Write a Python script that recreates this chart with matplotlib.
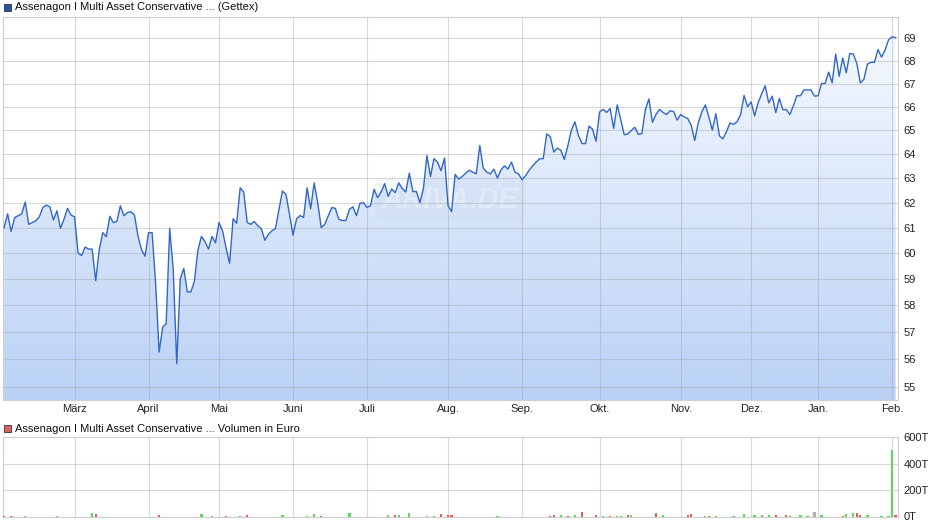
import numpy as np
import pandas as pd
import matplotlib
matplotlib.use("Agg")
import matplotlib.pyplot as plt
from matplotlib.colors import LinearSegmentedColormap
from matplotlib.patches import Rectangle
from matplotlib.ticker import FixedLocator, NullLocator, NullFormatter

# closing prices per month (Gettex trading days, Feb 2025 - Feb 2026)
feb_25 = [61.0, 61.55, 60.85, 61.4, 61.47, 61.55, 62.02, 61.13, 61.2, 61.27,
          61.43, 61.8, 61.9, 61.83, 61.3, 61.67, 60.97, 61.33, 61.77, 61.5]
mar_25 = [61.43, 60.0, 59.9, 60.23, 60.15, 60.15, 58.93, 60.13, 60.8, 60.64, 61.45,
          61.2, 61.24, 61.87, 61.47, 61.6, 61.63, 61.5, 60.67, 60.13, 59.87]
apr_25 = [60.8, 60.8, 58.84, 56.25, 57.17, 57.3, 60.96, 59.36, 55.83, 59.0,
          59.4, 58.5, 58.5, 58.9, 60.1, 60.65, 60.45, 60.15, 60.65, 60.4]
may_25 = [61.2, 60.87, 60.2, 59.6, 61.35, 61.17, 62.6, 62.43, 61.2, 61.13, 61.24,
          61.07, 60.96, 60.5, 60.73, 60.87, 60.96, 61.7, 62.47, 62.33, 61.53]
jun_25 = [60.7, 61.35, 61.48, 61.4, 62.6, 61.75, 62.8, 62.0, 61.0, 61.13, 61.47,
          61.8, 61.77, 61.33, 61.28, 61.28, 61.73, 61.83, 61.47, 61.97, 62.0]
jul_25 = [61.8, 61.88, 62.54, 62.2, 62.43, 62.77, 62.25, 62.55, 62.4, 62.8, 62.57, 62.43,
          63.2, 62.45, 62.45, 62.0, 62.57, 63.93, 63.06, 63.8, 63.66, 63.3, 63.83]
aug_25 = [61.87, 61.64, 63.15, 62.96, 63.06, 63.2, 63.32, 63.24, 63.17, 64.35, 63.4,
          63.24, 63.17, 63.37, 63.0, 63.33, 63.5, 63.37, 63.66, 63.24, 63.17]
sep_25 = [62.93, 63.1, 63.32, 63.5, 63.66, 63.8, 63.8, 64.84, 64.72, 64.08, 64.24,
          64.15, 63.77, 64.35, 65.0, 65.35, 64.77, 64.43, 64.43, 65.17, 65.03, 64.53]
oct_25 = [65.77, 65.88, 65.75, 65.92, 65.07, 66.07, 65.45, 64.8, 64.84, 64.98, 65.12, 64.82,
          64.85, 65.88, 66.33, 65.33, 65.66, 65.88, 65.75, 65.66, 65.82, 65.79, 65.42]
nov_25 = [65.66, 65.56, 65.49, 65.2, 64.56, 65.3, 65.77, 66.07, 65.56, 65.0,
          65.7, 64.76, 64.63, 64.93, 65.3, 65.24, 65.35, 65.65, 66.48, 66.0]
dec_25 = [66.2, 65.6, 66.17, 66.55, 66.9, 66.16, 66.45, 65.74, 66.35, 65.87,
          65.87, 65.66, 66.04, 66.47, 66.47, 66.72, 66.72, 66.72, 66.45]
jan_26 = [66.47, 67.0, 67.0, 67.5, 67.03, 68.3, 67.32, 68.12, 67.47, 68.32, 68.3,
          67.88, 67.03, 67.18, 67.85, 67.93, 67.93, 68.5, 68.16, 68.47, 68.93]
feb_26 = [69.07, 69.03]

prices = np.array(feb_25 + mar_25 + apr_25 + may_25 + jun_25 + jul_25 + aug_25
                  + sep_25 + oct_25 + nov_25 + dec_25 + jan_26 + feb_26)

holidays = ["2025-04-18", "2025-04-21", "2025-05-01", "2025-12-24",
            "2025-12-25", "2025-12-26", "2025-12-31", "2026-01-01"]
dates = pd.bdate_range("2025-02-03", "2026-02-10")
dates = dates[~dates.isin(pd.to_datetime(holidays))][:len(prices)]

month_labels = ["März", "April", "Mai", "Juni", "Juli", "Aug.", "Sep.",
                "Okt.", "Nov.", "Dez.", "Jan.", "Feb."]

# volume in thousand euro: trading day index, amount, direction (u up, d down, n unchanged)
vol_day = [0, 2, 6, 15, 25, 26, 44, 56, 59, 63,
           67, 69, 79, 86, 88, 90, 98, 109, 111, 112,
           115, 120, 122, 124, 126, 127, 140, 155, 156, 158,
           160, 162, 164, 168, 170, 172, 174, 175, 177, 178,
           185, 187, 194, 195, 199, 200, 202, 207, 210, 213,
           215, 217, 219, 222, 223, 226, 228, 230, 232, 238,
           239, 241, 242, 243, 245, 249, 251, 252, 253]
vol_k = [5, 4, 4, 4, 28, 18, 10, 18, 5, 5,
         4, 12, 10, 4, 18, 4, 28, 10, 10, 8,
         25, 5, 5, 18, 10, 12, 4, 5, 8, 8,
         4, 8, 35, 8, 4, 4, 4, 4, 10, 10,
         28, 8, 15, 18, 4, 4, 4, 4, 18, 8,
         10, 8, 8, 8, 4, 10, 4, 33, 10, 4,
         18, 28, 25, 8, 15, 4, 4, 505, 15]
vol_side = ["d", "d", "u", "u", "u", "d", "d", "u", "u", "d",
            "u", "d", "u", "u", "u", "d", "u", "u", "d", "u",
            "u", "u", "u", "d", "d", "d", "u", "d", "d", "u",
            "d", "u", "d", "d", "u", "d", "u", "u", "d", "u",
            "d", "u", "d", "d", "u", "d", "u", "u", "u", "u",
            "u", "u", "d", "d", "u", "u", "u", "n", "u", "d",
            "u", "u", "d", "d", "u", "u", "u", "u", "d"]

x = np.arange(len(prices))
month_pos = [i for i in range(1, len(dates)) if dates[i].month != dates[i - 1].month]

plt.rcParams["font.family"] = ["Liberation Sans", "DejaVu Sans"]
plt.rcParams["font.size"] = 8

W, H = 940, 526
fig = plt.figure(figsize=(W / 100, H / 100), dpi=100)

# ---- price chart
ax = fig.add_axes([2.5 / W, 1 - 400 / H, 895.2 / W, (400 - 16.7) / H])
cmap = LinearSegmentedColormap.from_list("fill", ["#bad1f6", "#f8fbff"])
im = ax.imshow(np.linspace(0, 1, 256).reshape(-1, 1), cmap=cmap, extent=[0, 1, 0, 1],
               transform=ax.transAxes, origin="lower", aspect="auto", zorder=1)
fill = ax.fill_between(x, prices, 40, facecolor="none", edgecolor="none")
ax.plot(x, prices, color="#3067c8", lw=1.0, zorder=3)
ax.set_yscale("log")
im.set_clip_path(fill.get_paths()[0], ax.transData)
ax.set_xlim(-0.45, 253.6)
ax.set_ylim(54.52, 69.98)

ax.yaxis.set_major_locator(FixedLocator(range(55, 70)))
ax.yaxis.set_minor_locator(NullLocator())
ax.yaxis.set_minor_formatter(NullFormatter())
ax.set_yticklabels([str(v) for v in range(55, 70)])
ax.yaxis.tick_right()
ax.set_xticks(month_pos)
ax.set_xticklabels(month_labels)
ax.tick_params(length=0, colors="#222222", labelsize=8)
ax.tick_params(axis="y", pad=4)
ax.tick_params(axis="x", pad=3)
ax.set_axisbelow(False)
ax.grid(True, color="#a0a0a0", alpha=0.4, lw=0.8)
for s in ax.spines.values():
    s.set_color("#cfcfcf")
    s.set_linewidth(0.8)

ax.text(0.5, 0.522, "ARIVA.DE", transform=ax.transAxes, ha="center", va="center",
        fontsize=21, fontstyle="italic", fontweight="bold", color="white", alpha=0.3,
        zorder=2, bbox=dict(boxstyle="round,pad=0.25", fc="#b8c6de", ec="none", alpha=0.12))

# ---- volume chart
axv = fig.add_axes([2.5 / W, 1 - 516.5 / H, 895.2 / W, (516.5 - 437.3) / H])
side_color = {"u": "#5cd65c", "d": "#e35d5d", "n": "#b0b0b0"}
axv.bar(vol_day, vol_k, width=0.65, color=[side_color[s] for s in vol_side], zorder=3)
axv.set_xlim(-0.45, 253.6)
axv.set_ylim(0, 600)
axv.set_yticks([0, 200, 400, 600])
axv.set_yticklabels(["0T", "200T", "400T", "600T"])
axv.yaxis.tick_right()
axv.set_xticks(month_pos)
axv.set_xticklabels([])
axv.tick_params(length=0, colors="#222222", labelsize=8, pad=4)
axv.grid(True, color="#a0a0a0", alpha=0.4, lw=0.8)
for s in axv.spines.values():
    s.set_color("#cfcfcf")
    s.set_linewidth(0.8)

# ---- legends
fig.add_artist(Rectangle((4 / W, 1 - 10.5 / H), 7 / W, 7 / H, transform=fig.transFigure,
                         fc="#1f56b0", ec="#333333", lw=0.6))
fig.text(15 / W, 1 - 7 / H, "Assenagon I Multi Asset Conservative ... (Gettex)",
         va="center", ha="left", fontsize=8, color="#111111")
fig.add_artist(Rectangle((4 / W, 1 - 432 / H), 7 / W, 7 / H, transform=fig.transFigure,
                         fc="#e06060", ec="#333333", lw=0.6))
fig.text(15 / W, 1 - 428.5 / H, "Assenagon I Multi Asset Conservative ... Volumen in Euro",
         va="center", ha="left", fontsize=8, color="#111111")

fig.savefig("out.png", dpi=100)
